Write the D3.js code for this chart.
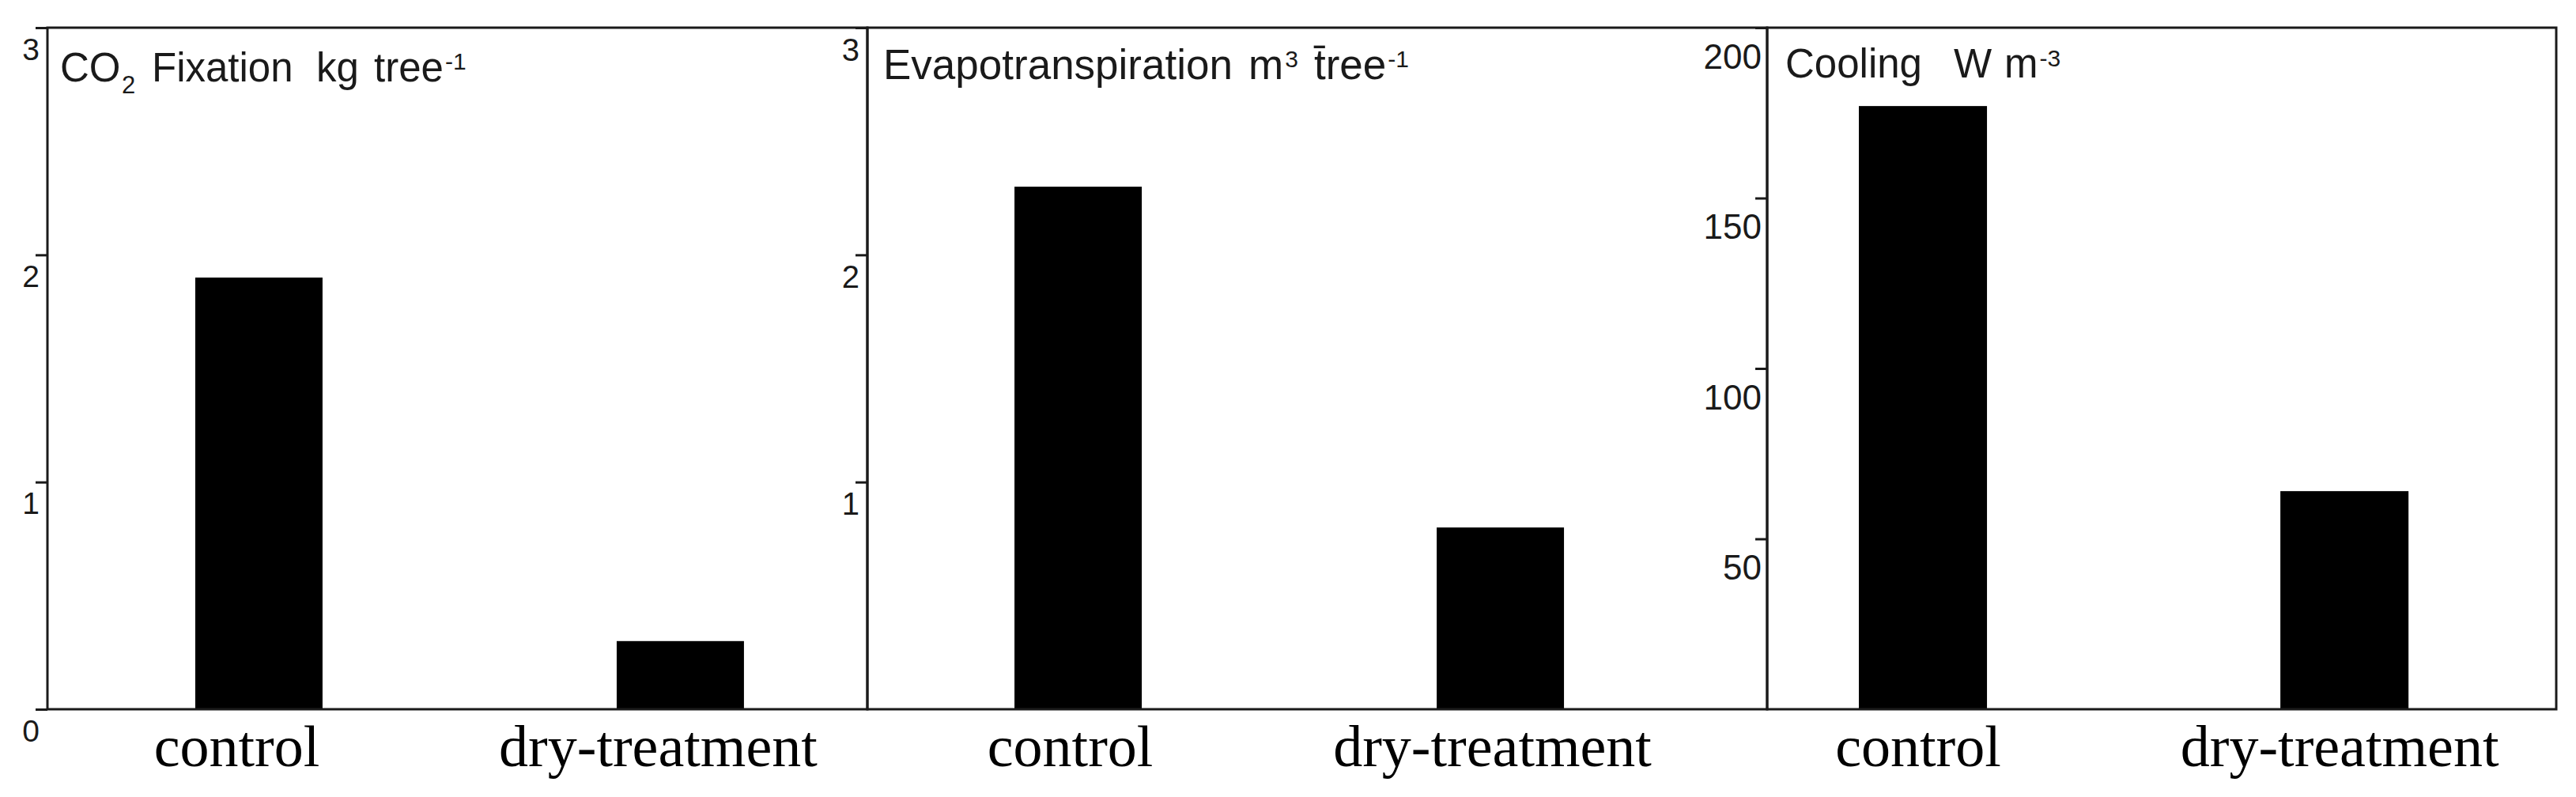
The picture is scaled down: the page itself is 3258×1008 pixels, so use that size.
<!DOCTYPE html>
<html>
<head>
<meta charset="utf-8">
<script src="https://cdn.jsdelivr.net/npm/d3@7"></script>
<style>
  html, body { margin: 0; padding: 0; background: #fff; }
  svg { display: block; }
</style>
</head>
<body>
<svg id="chart" width="3258" height="1008"></svg>
<script>
// ---- data ----
const categories = ["control", "dry-treatment"];
const co2Values = [1.90, 0.30];          // kg tree-1
const evapoValues = [2.30, 0.80];        // m3 tree-1
const coolingValues = [177, 64];         // W m-3
const co2Ticks = [0, 1, 2, 3];
const evapoTicks = [1, 2, 3];
const coolingTicks = [50, 100, 150, 200];

// ---- layout ----
const TOP = 35, BOTTOM = 897;
const ink = "#1a1a1a";
const panels = [
  { values: co2Values, ticks: co2Ticks, yMax: 3, x0: 60, x1: 1097,
    inner: 0.698, outer: 0.3218, align: 0.545, tickFont: 39, tickDy: 40, tickGap: 10, labelShift: -28,
    title: [
      { t: "CO", x: 76, y: 103, s: 51 },
      { t: "2", x: 154, y: 118, s: 31 },
      { t: "Fixation", x: 192, y: 103, s: 51 },
      { t: "kg", x: 400, y: 103, s: 51 },
      { t: "tree", x: 473, y: 103, s: 51 },
      { t: "-1", dx: 2, y: 88, s: 30 }
    ] },
  { values: evapoValues, ticks: evapoTicks, yMax: 3, x0: 1097, x1: 2235,
    inner: 0.6985, outer: 0.4148, align: 0.42, tickFont: 40, tickDy: 41, tickGap: 10, labelShift: -10,
    title: [
      { t: "Evapotranspiration", x: 1117, y: 100, s: 53 },
      { t: "m", x: 1579, y: 100, s: 53 },
      { t: "3", dx: 2, y: 85, s: 30 },
      { t: "t\u0304ree", x: 1662, y: 100, s: 53 },
      { t: "-1", dx: 2, y: 85, s: 30 }
    ] },
  { values: coolingValues, ticks: coolingTicks, yMax: 200, x0: 2235, x1: 3233,
    inner: 0.696, outer: 0.284, align: 0.383, tickFont: 44, tickDy: 51, tickGap: 7, labelShift: -6,
    title: [
      { t: "Cooling", x: 2258, y: 98, s: 51 },
      { t: "W", x: 2471, y: 98, s: 51 },
      { t: "m", x: 2535, y: 98, s: 51 },
      { t: "-3", dx: 2, y: 84, s: 30 }
    ] }
];

const svg = d3.select("#chart");

panels.forEach(p => {
  const g = svg.append("g");
  const x = d3.scaleBand().domain(categories).range([p.x0, p.x1])
    .paddingInner(p.inner).paddingOuter(p.outer).align(p.align);
  const y = d3.scaleLinear().domain([0, p.yMax]).range([BOTTOM, TOP]);

  // bars
  g.selectAll("rect.bar").data(categories.map((c, i) => ({ c, v: p.values[i] })))
    .join("rect").attr("class", "bar")
    .attr("x", d => x(d.c)).attr("width", x.bandwidth())
    .attr("y", d => y(d.v)).attr("height", d => y(0) - y(d.v))
    .attr("fill", "#000");

  // y axis (ticks + labels below each tick)
  const ax = g.append("g").attr("transform", `translate(${p.x0},0)`)
    .call(d3.axisLeft(y).tickValues(p.ticks).tickSize(15).tickPadding(p.tickGap).tickFormat(d3.format("d")));
  ax.select(".domain").remove();
  ax.selectAll(".tick line").attr("stroke", ink).attr("stroke-width", 3);
  ax.selectAll(".tick text")
    .attr("x", -p.tickGap).attr("dy", null).attr("y", p.tickDy)
    .attr("fill", ink)
    .style("font-family", "'Liberation Sans', Arial, sans-serif")
    .style("font-size", p.tickFont + "px");

  // frame
  g.append("rect").attr("x", p.x0).attr("y", TOP)
    .attr("width", p.x1 - p.x0).attr("height", BOTTOM - TOP)
    .attr("fill", "none").attr("stroke", ink).attr("stroke-width", 3);

  // x category labels
  const xa = g.append("g").attr("transform", `translate(0,${BOTTOM})`)
    .call(d3.axisBottom(x).tickSize(0).tickPadding(0));
  xa.select(".domain").remove();
  xa.selectAll(".tick text")
    .attr("dy", null).attr("y", 72).attr("x", p.labelShift)
    .attr("fill", "#000")
    .style("font-family", "'Liberation Serif', 'Times New Roman', serif")
    .style("font-size", "74px");

  // title
  const tt = g.append("text")
    .style("font-family", "'Liberation Sans', Arial, sans-serif")
    .attr("fill", ink);
  p.title.forEach(piece => {
    const ts = tt.append("tspan").attr("y", piece.y)
      .style("font-size", piece.s + "px").text(piece.t);
    if (piece.x !== undefined) ts.attr("x", piece.x);
    if (piece.dx !== undefined) ts.attr("dx", piece.dx);
  });
});
</script>
</body>
</html>
